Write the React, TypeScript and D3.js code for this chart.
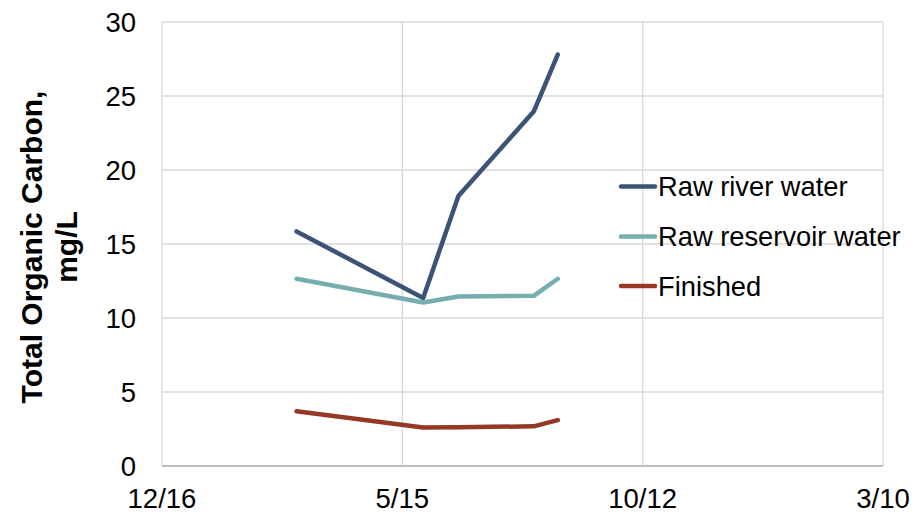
import React from "react";
import * as d3 from "d3";

const sampleDates = ["2019-03-10", "2019-05-28", "2019-06-19", "2019-08-05", "2019-08-20"];
const riverValues = [15.85, 11.35, 18.25, 23.95, 27.8];
const reservoirValues = [12.65, 11.05, 11.45, 11.5, 12.65];
const finishedValues = [3.7, 2.6, 2.62, 2.68, 3.1];
const xTickDates = ["2018-12-16", "2019-05-15", "2019-10-12", "2020-03-10"];
const yTicks = [0, 5, 10, 15, 20, 25, 30];
const seriesNames = ["Raw river water", "Raw reservoir water", "Finished"];
const seriesColors = ["#3B5377", "#76AEB0", "#953826"];

const W = 922;
const H = 514;
const plot = { left: 162, right: 883, top: 22, bottom: 466 };
const FONT = "'Liberation Sans', Arial, sans-serif";

export default function App() {
  const parse = (s: string) => new Date(s + "T00:00:00Z");
  const xTicks = xTickDates.map(parse);
  const x = d3
    .scaleUtc()
    .domain([xTicks[0], xTicks[xTicks.length - 1]])
    .range([plot.left, plot.right]);
  const y = d3.scaleLinear().domain([0, 30]).range([plot.bottom, plot.top]);
  const fmt = d3.utcFormat("%-m/%-d");

  const series = [riverValues, reservoirValues, finishedValues].map((vals) =>
    sampleDates.map((d, i) => ({ date: parse(d), value: vals[i] }))
  );
  const line = d3
    .line<{ date: Date; value: number }>()
    .x((d) => x(d.date))
    .y((d) => y(d.value));

  const legendY = [186.5, 236.5, 286];

  return (
    <svg
      width={W}
      height={H}
      style={{ position: "absolute", left: 0, top: 0, background: "#fff" }}
      fontFamily={FONT}
    >
      {yTicks.map((t) => (
        <line
          key={"hy" + t}
          x1={plot.left}
          x2={plot.right}
          y1={y(t)}
          y2={y(t)}
          stroke="#d9d9d9"
          strokeWidth={1.3}
        />
      ))}
      {xTicks.map((t, i) => (
        <line
          key={"vx" + i}
          x1={x(t)}
          x2={x(t)}
          y1={plot.top}
          y2={plot.bottom}
          stroke="#d9d9d9"
          strokeWidth={1.3}
        />
      ))}
      <line
        x1={plot.left}
        x2={plot.right}
        y1={plot.bottom}
        y2={plot.bottom}
        stroke="#bfbfbf"
        strokeWidth={2}
      />
      {yTicks.map((t) => (
        <text
          key={"yl" + t}
          x={136}
          y={y(t)}
          dy="0.36em"
          textAnchor="end"
          fontSize={27.5}
          fill="#000"
        >
          {t}
        </text>
      ))}
      {xTicks.map((t, i) => (
        <text
          key={"xl" + i}
          x={x(t)}
          y={508}
          textAnchor="middle"
          fontSize={27.5}
          fill="#000"
        >
          {fmt(t)}
        </text>
      ))}
      <g transform={`translate(0, ${(plot.top + plot.bottom) / 2 + 3}) rotate(-90)`}>
        <text x={0} y={42} textAnchor="middle" fontSize={30} fontWeight="bold" fill="#000">
          Total Organic Carbon,
        </text>
        <text x={0} y={77} textAnchor="middle" fontSize={30} fontWeight="bold" fill="#000">
          mg/L
        </text>
      </g>
      {series.map((s, i) => (
        <path
          key={"s" + i}
          d={line(s) || ""}
          fill="none"
          stroke={seriesColors[i]}
          strokeWidth={4.5}
          strokeLinejoin="round"
          strokeLinecap="round"
        />
      ))}
      {seriesNames.map((name, i) => (
        <g key={"lg" + i}>
          <line
            x1={621}
            x2={655}
            y1={legendY[i]}
            y2={legendY[i]}
            stroke={seriesColors[i]}
            strokeWidth={4.5}
            strokeLinecap="round"
          />
          <text x={658} y={legendY[i]} dy="0.36em" fontSize={27.3} fill="#000">
            {name}
          </text>
        </g>
      ))}
    </svg>
  );
}
